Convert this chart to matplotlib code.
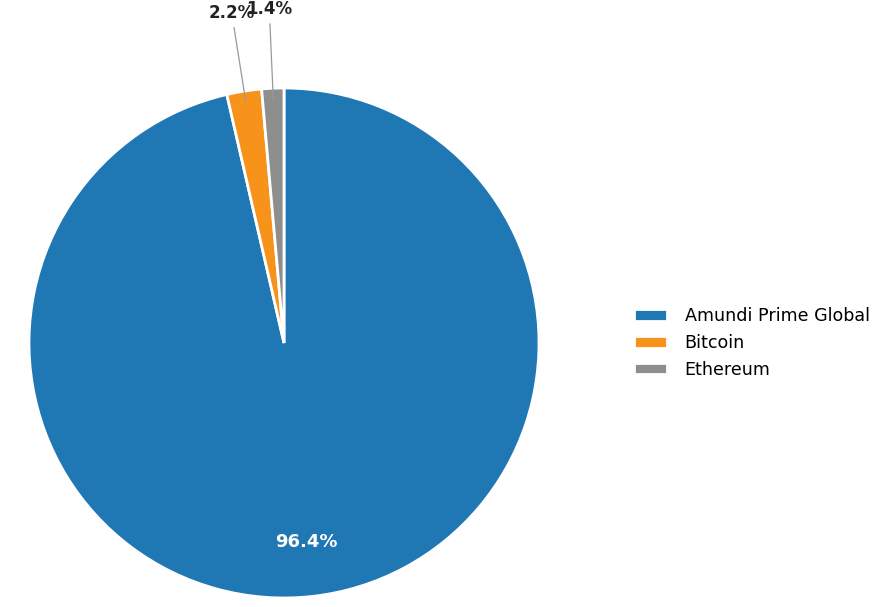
import matplotlib
matplotlib.use("Agg")
import matplotlib.pyplot as plt
import numpy as np

labels = ["Amundi Prime Global", "Bitcoin", "Ethereum"]
shares = [96.4, 2.2, 1.4]
colors = ["#1f77b4", "#f7931a", "#8e8e8e"]

fig = plt.figure(figsize=(8.75, 6.07), dpi=100)

# radius 1 in data units -> 255 px, centre at (284, 343) from top-left
r_px = 255
half = 1.25
w_px = 2 * half * r_px
cx, cy = 284, 607 - 343
ax = fig.add_axes([(cx - w_px / 2) / 875, (cy - w_px / 2) / 607, w_px / 875, w_px / 607])

wedges, _ = ax.pie(shares, colors=colors, startangle=90, counterclock=False,
                   wedgeprops=dict(edgecolor="white", linewidth=2))
ax.set_xlim(-half, half)
ax.set_ylim(-half, half)
ax.set_aspect("equal")

for w, val in zip(wedges, shares):
    mid = np.deg2rad((w.theta1 + w.theta2) / 2)
    if val > 10:
        ax.text(0.785 * np.cos(mid), 0.785 * np.sin(mid), f"{val:.1f}%",
                ha="center", va="center", color="white", fontsize=13, fontweight="bold")
    else:
        ax.annotate(f"{val:.1f}%",
                    xy=(0.96 * np.cos(mid), 0.96 * np.sin(mid)),
                    xytext=(1.31 * np.cos(mid), 1.31 * np.sin(mid)),
                    ha="center", va="center", fontsize=12, fontweight="bold", color="#222222",
                    arrowprops=dict(arrowstyle="-", color="#999999", lw=0.9,
                                    shrinkA=2, shrinkB=0),
                    annotation_clip=False)

fig.legend(wedges, labels, loc="center left", bbox_to_anchor=(634 / 875, 264 / 607),
           frameon=False, fontsize=12.6, borderaxespad=0, borderpad=0,
           handlelength=1.9, handleheight=0.65, labelspacing=0.5, handletextpad=1.0)

fig.savefig("out.png", dpi=100)
